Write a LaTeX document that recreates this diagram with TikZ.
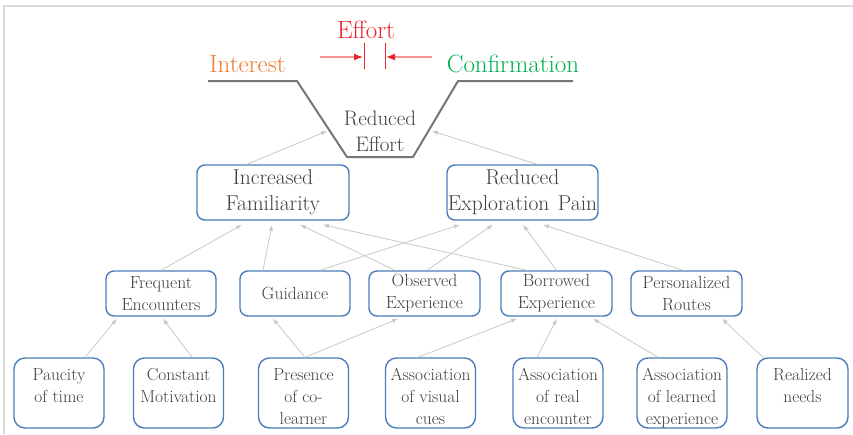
\documentclass[tikz,border=0pt]{standalone}
\usepackage{fontspec}
\usetikzlibrary{arrows.meta}
\definecolor{boxblue}{RGB}{74,126,187}
\definecolor{edgegray}{RGB}{200,200,200}
\definecolor{txtgray}{RGB}{64,64,64}
\definecolor{effred}{RGB}{232,38,42}
\definecolor{effpink}{RGB}{244,150,150}
\definecolor{intorange}{RGB}{237,125,49}
\definecolor{confgreen}{RGB}{0,176,80}
\definecolor{troughgray}{RGB}{118,118,118}
\definecolor{framegray}{RGB}{217,217,217}
\newcommand{\bottomtext}[1]{\begin{minipage}[c][70pt][t]{90pt}\centering\rule{0pt}{22pt}#1\end{minipage}}
\begin{document}
\begin{tikzpicture}[x=1pt,y=-1pt,
 box/.style={draw=boxblue, line width=1.4pt, fill=white, text=txtgray, inner sep=0pt},
 lvltwo/.style={box, align=center, rounded corners=8pt, minimum height=55pt, font=\fontsize{21.5}{26}\selectfont},
 lvlthree/.style={box, align=center, rounded corners=8pt, minimum height=45pt, font=\fontsize{17.6}{22}\selectfont},
 lvlfour/.style={box, rounded corners=11pt, minimum height=70pt, font=\fontsize{17.4}{22}\selectfont},
 link/.style={draw=edgegray, line width=0.8pt, -{Latex[length=6pt,width=4.5pt]}},
 bigword/.style={anchor=base, inner sep=0pt, font=\fontsize{25}{30}\selectfont},
]
\useasboundingbox (0,0) rectangle (853,434);
% frame
\draw[framegray, line width=1.5pt] (4,434) -- (4,6) -- (853,6);

% top labels
\node[bigword, text=effred] (effort) at (366,38) {Effort};
\node[bigword, text=intorange] (interest) at (247.5,72) {Interest};
\node[bigword, text=confgreen] (confirm) at (513,72) {Confirmation};

% effort squeeze arrows
\coordinate (effLs) at (320,57);
\coordinate (effLe) at (363,57);
\coordinate (effRs) at (432,57);
\coordinate (effRe) at (386,57);
\coordinate (barLt) at (364,43);
\coordinate (barLb) at (364,69);
\coordinate (barRt) at (385,43);
\coordinate (barRb) at (385,69);
\draw[effpink, line width=1.2pt, -{Latex[length=9pt,width=7pt,color=effred]}] (effLs) -- (effLe);
\draw[effpink, line width=1.2pt, -{Latex[length=9pt,width=7pt,color=effred]}] (effRs) -- (effRe);
\draw[effred, line width=1pt] (barLt) -- (barLb);
\draw[effred, line width=1pt] (barRt) -- (barRb);

% trough
\draw[troughgray, line width=2pt, line join=round] (208,81) -- (297,81) -- (347,157) -- (413,157) -- (458,81) -- (573,81);
\node[text=txtgray, align=center, inner sep=0pt, font=\fontsize{21}{26}\selectfont] (reff) at (380,131) {Reduced\\Effort};
\coordinate (reL) at (327,131);
\coordinate (reR) at (432,131);

% level 2
\node[lvltwo, minimum width=152pt] (inc) at (273,192.5) {Increased\\Familiarity};
\node[lvltwo, minimum width=151pt] (rep) at (522.5,192.5) {Reduced\\Exploration\hspace{0.4em}Pain};

% level 3
\node[lvlthree, minimum width=110pt] (fre) at (161,293.5) {Frequent\\Encounters};
\node[lvlthree, minimum width=110pt] (gui) at (295,293.5) {Guidance};
\node[lvlthree, minimum width=111pt] (obs) at (424.5,293.5) {Observed\\Experience};
\node[lvlthree, minimum width=111pt] (bor) at (556.5,293.5) {Borrowed\\Experience};
\node[lvlthree, minimum width=111pt] (per) at (686.5,293.5) {Personalized\\Routes};

% level 4
\node[lvlfour, minimum width=90pt] (pau) at (59,393) {\bottomtext{Paucity\\of time}};
\node[lvlfour, minimum width=89pt] (con) at (178.5,393) {\bottomtext{Constant\\Motivation}};
\node[lvlfour, minimum width=89pt] (pre) at (303.5,393) {\bottomtext{Presence\\of co-\\learner}};
\node[lvlfour, minimum width=89pt] (avi) at (430.5,393) {\bottomtext{Association\\of visual\\cues}};
\node[lvlfour, minimum width=90pt] (are) at (558,393) {\bottomtext{Association\\of real\\encounter}};
\node[lvlfour, minimum width=90pt] (ale) at (682,393) {\bottomtext{Association\\of learned\\experience}};
\node[lvlfour, minimum width=91pt] (rea) at (802.5,393) {\bottomtext{Realized\\needs}};

% links level 2 -> reduced effort
\draw[link] ([xshift=-26pt]inc.north) -- (reL);
\draw[link] ([xshift=14.5pt]rep.north) -- (reR);

% links level 3 -> level 2
\draw[link] (fre.north) -- ([xshift=-31pt,yshift=-4pt]inc.south);
\draw[link] ([xshift=-32pt]gui.north) -- ([xshift=-1pt,yshift=-4pt]inc.south);
\draw[link] ([xshift=-29.5pt]obs.north) -- ([xshift=27pt,yshift=-4pt]inc.south);
\draw[link] ([xshift=-29.5pt]bor.north) -- ([xshift=50pt,yshift=-4pt]inc.south);
\draw[link] ([xshift=25pt]gui.north) -- ([xshift=-62.5pt,yshift=-4pt]rep.south);
\draw[link] ([xshift=2.5pt]obs.north) -- ([xshift=-29.5pt,yshift=-4pt]rep.south);
\draw[link] (bor.north) -- ([xshift=0.5pt,yshift=-4pt]rep.south);
\draw[link] ([xshift=-3.5pt]per.north) -- ([xshift=20.5pt,yshift=-4pt]rep.south);

% links level 4 -> level 3
\draw[link] ([xshift=26pt]pau.north) -- ([xshift=-44pt,yshift=-2pt]fre.south);
\draw[link] ([xshift=13.5pt]con.north) -- ([xshift=2pt,yshift=-2pt]fre.south);
\draw[link] ([xshift=1.5pt]pre.north) -- ([xshift=-22pt,yshift=-2pt]gui.south);
\draw[link] ([xshift=1.5pt]pre.north) -- ([xshift=-26.5pt,yshift=-2pt]obs.south);
\draw[link] ([xshift=-12.5pt]avi.north) -- ([xshift=-39.5pt,yshift=-2pt]bor.south);
\draw[link] ([xshift=-21pt]are.north) -- ([xshift=0.5pt,yshift=-2pt]bor.south);
\draw[link] ([xshift=-24pt]ale.north) -- ([xshift=36.5pt,yshift=-2pt]bor.south);
\draw[link] ([xshift=-39.5pt]rea.north) -- ([xshift=35.5pt,yshift=-2pt]per.south);
\end{tikzpicture}
\end{document}
